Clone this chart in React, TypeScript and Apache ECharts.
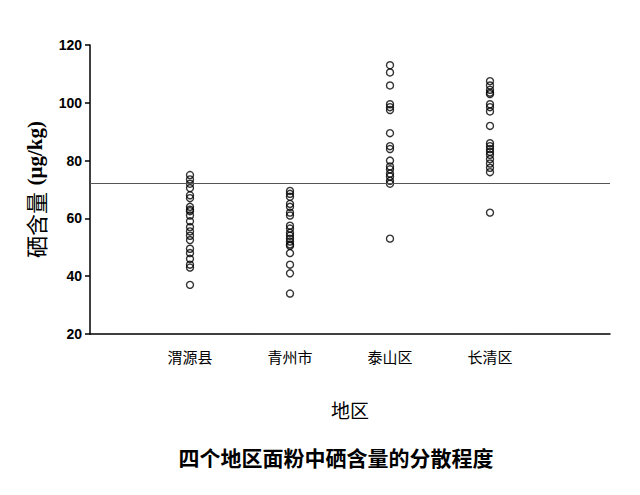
import React, { useEffect, useRef } from 'react';
import * as echarts from 'echarts';

const regions = ['渭源县', '青州市', '泰山区', '长清区'];

const weiyuan = [75, 73.5, 72, 70.5, 68, 67, 64, 63, 62.5, 61, 59, 57, 55.5, 54, 52.5, 49.5, 48, 46, 44, 43, 37];
const qingzhou = [69.5, 68.5, 67.5, 65, 64, 62, 61, 57.5, 56.5, 55, 54, 53, 52, 51, 50.5, 48, 44, 41, 34];
const taishan = [113, 110.5, 106, 99.5, 98.5, 97.5, 89.5, 85, 84, 80, 78, 77, 75.5, 74.5, 73, 72, 53];
const changqing = [107.5, 106, 104.5, 103.5, 103, 99.5, 98.5, 97, 92, 86, 85, 84, 83, 82, 80.5, 79, 77.5, 76, 62];

const groups = [weiyuan, qingzhou, taishan, changqing];
const referenceLine = 72;

const yTicks = { min: 20, max: 120, interval: 20 };

const App: React.FC = () => {
  const chartRef = useRef<HTMLDivElement>(null);

  useEffect(() => {
    if (!chartRef.current) return;
    const chart = echarts.init(chartRef.current, undefined, { renderer: 'svg' });

    const cjk = '"Noto Sans CJK SC", "Noto Sans", sans-serif';

    const option: echarts.EChartsOption = {
      animation: false,
      backgroundColor: '#fff',
      grid: { left: 90, right: 30, top: 45, bottom: 161 },
      xAxis: {
        type: 'value',
        min: 0,
        max: 5.2,
        interval: 1,
        name: '地区',
        nameLocation: 'middle',
        nameGap: 66,
        nameTextStyle: { fontFamily: cjk, fontSize: 19, color: '#000' },
        axisLine: { lineStyle: { color: '#000', width: 1.5 } },
        axisTick: { show: false },
        splitLine: { show: false },
        axisLabel: {
          margin: 15,
          color: '#000',
          fontSize: 15,
          fontFamily: cjk,
          formatter: (v: number) => regions[Math.round(v) - 1] ?? ''
        }
      },
      yAxis: {
        type: 'value',
        min: yTicks.min,
        max: yTicks.max,
        interval: yTicks.interval,
        name: '{a|硒含量}  {b|(μg/kg)}',
        nameLocation: 'middle',
        nameGap: 44,
        nameRotate: 90,
        nameTextStyle: {
          color: '#000',
          rich: {
            a: { fontFamily: cjk, fontSize: 22, color: '#000' },
            b: { fontFamily: '"Liberation Serif", serif', fontSize: 21, fontWeight: 'bold', color: '#000' }
          }
        },
        axisLine: { show: true, lineStyle: { color: '#000', width: 1.5 } },
        axisTick: { show: true, length: 5, lineStyle: { color: '#000', width: 1.5 } },
        splitLine: { show: false },
        axisLabel: {
          margin: 8,
          color: '#000',
          fontSize: 14,
          fontWeight: 'bold',
          fontFamily: 'Arial, "Liberation Sans", sans-serif'
        }
      },
      series: groups.map((vals, i) => ({
        type: 'scatter',
        name: regions[i],
        data: vals.map(v => [i + 1, v]),
        symbol: 'circle',
        symbolSize: 7,
        itemStyle: { color: 'rgba(0,0,0,0)', borderColor: '#000', borderWidth: 1.4 },
        markLine: i === 0 ? {
          silent: true,
          symbol: 'none',
          label: { show: false },
          lineStyle: { color: '#555', width: 1, type: 'solid' },
          data: [{ yAxis: referenceLine }]
        } : undefined
      })) as any,
      graphic: [{
        type: 'text',
        x: 336,
        y: 457,
        style: {
          text: '四个地区面粉中硒含量的分散程度',
          fill: '#000',
          font: `bold 21px ${cjk}`,
          textAlign: 'center',
          textVerticalAlign: 'middle'
        }
      }]
    };

    chart.setOption(option);
    return () => {
      chart.dispose();
    };
  }, []);

  return (
    <div
      ref={chartRef}
      style={{ position: 'fixed', left: 0, top: 0, width: 640, height: 495 }}
    />
  );
};

export default App;
